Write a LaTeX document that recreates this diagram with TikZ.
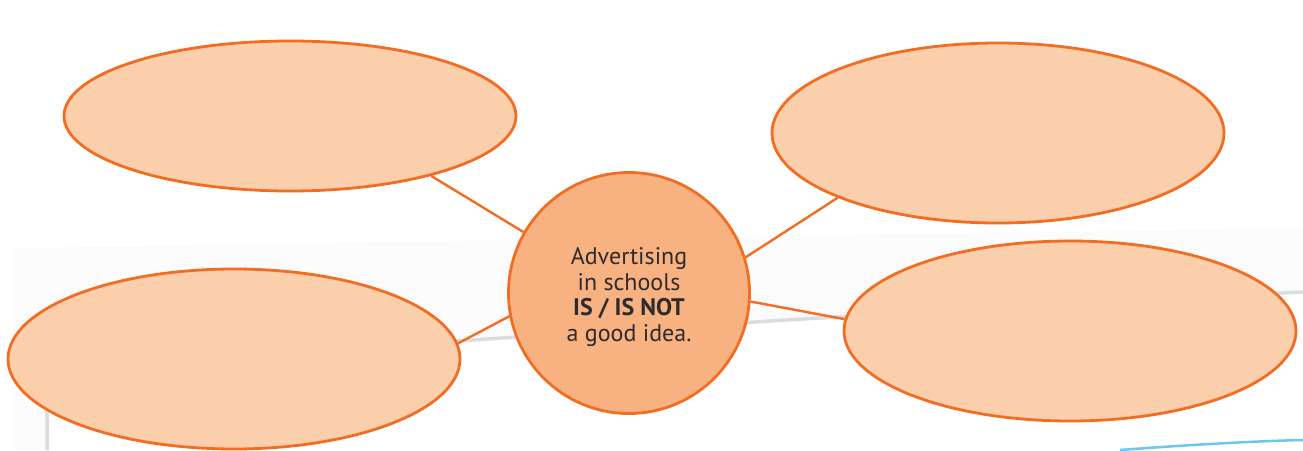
\documentclass[tikz,border=0pt]{standalone}
\usepackage{fontspec}
\setmainfont{PT Sans}
\usetikzlibrary{shapes.geometric}
\definecolor{edge}{HTML}{F26D21}
\definecolor{lightfill}{HTML}{FBCEAC}
\definecolor{midfill}{HTML}{F8B282}
\definecolor{txt}{HTML}{2E2B2C}
\definecolor{sheetshadow}{HTML}{DADCDF}
\definecolor{bluestripe}{HTML}{6CC6F0}
\tikzset{
  idea/.style={ellipse, draw=edge, fill=lightfill, line width=2.8pt, inner sep=0pt, minimum width=452pt},
  hub/.style={circle, draw=edge, fill=midfill, line width=2.8pt, inner sep=0pt, minimum size=241pt},
  hubtext/.style={align=center, text=txt, inner sep=0pt, font=\fontsize{24}{25.5}\selectfont},
  link/.style={draw=edge, line width=2.4pt},
}
\begin{document}
\begin{tikzpicture}[x=1pt,y=-1pt]
\useasboundingbox (0,0) rectangle (1303,450);
% faint background sheet
\fill[black!1.5] (15,248) -- (1303,228) -- (1303,450) -- (15,450) -- cycle;
\fill[white] (47,450) -- (47,368) .. controls (400,345) and (900,310) .. (1303,292) -- (1303,450) -- cycle;
\draw[sheetshadow, line width=3.5pt] (47,450) -- (47,368) .. controls (400,345) and (900,310) .. (1303,292);
\draw[bluestripe, line width=2.5pt] (1120,450) .. controls (1200,444) and (1260,441) .. (1303,440);
% nodes
\node[hub] (c) at (629,293) {};
\node[hubtext] (ct) at (629,297) {Advertising\\in schools\\\textbf{IS / IS NOT}\\a good idea.};
\node[idea, minimum height=150pt] (tl) at (290,116) {};
\node[idea, minimum height=180pt] (tr) at (998,133) {};
\node[idea, minimum height=180pt] (bl) at (234,359) {};
\node[idea, minimum height=180pt] (br) at (1070,331) {};
% connectors
\draw[link] (c.150) -- (tl.-23);
\draw[link] (c.191) -- (bl.4);
\draw[link] (c.17) -- (tr.202);
\draw[link] (c.-4) -- (br.177);
\end{tikzpicture}
\end{document}
